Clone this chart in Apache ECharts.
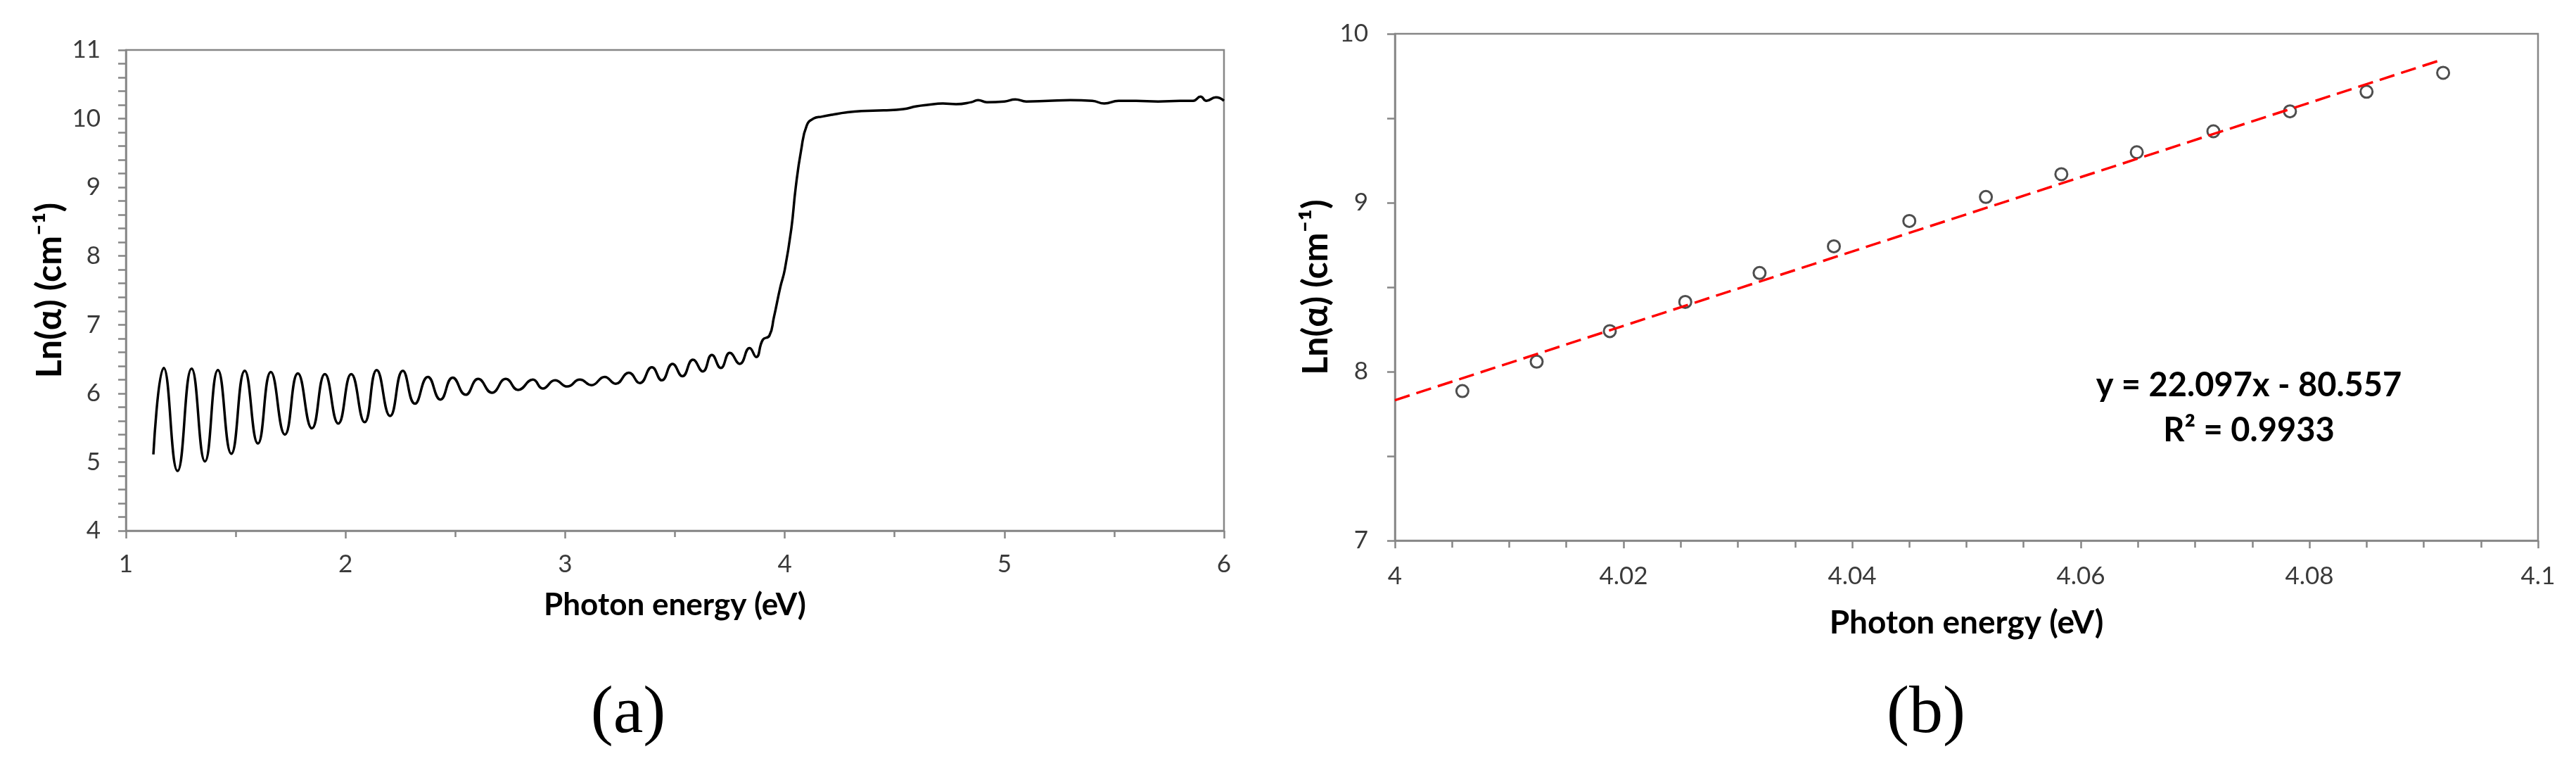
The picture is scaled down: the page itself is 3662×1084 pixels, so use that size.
<!DOCTYPE html>
<html>
<head>
<meta charset="utf-8">
<script src="https://cdn.jsdelivr.net/npm/echarts@6/dist/echarts.min.js"></script>
<style>
  html, body { margin: 0; padding: 0; background: #fff; }
  #chart { width: 3662px; height: 1084px; }
</style>
</head>
<body>
<div id="chart"></div>
<script>
// (a) ln(alpha) over the whole spectrum (peaks / troughs / knee)
var energyA = [
  1.125, 1.172, 1.235, 1.299, 1.360, 1.419, 1.480, 1.541, 1.601, 1.660,
  1.724, 1.783, 1.847, 1.906, 1.967, 2.026, 2.087, 2.142, 2.203, 2.261,
  2.316, 2.375, 2.432, 2.488, 2.547, 2.604, 2.667, 2.730, 2.786, 2.853,
  2.898, 2.954, 3.010, 3.067, 3.120, 3.180, 3.230, 3.290, 3.340, 3.395,
  3.440, 3.489, 3.534, 3.582, 3.627, 3.668, 3.709, 3.750, 3.795, 3.840,
  3.870, 3.900, 3.930, 3.950, 3.980, 4.000, 4.030, 4.050, 4.075, 4.100,
  4.130, 4.170, 4.220, 4.280, 4.350, 4.450, 4.540, 4.600, 4.650, 4.720,
  4.780, 4.850, 4.880, 4.920, 5.000, 5.050, 5.100, 5.200, 5.300, 5.400,
  5.455, 5.520, 5.600, 5.700, 5.800, 5.860, 5.893, 5.920, 5.963, 6.000
]
var lnAlphaA = [
  5.11, 6.37, 4.87, 6.36, 5.01, 6.34, 5.12, 6.33, 5.27, 6.31,
  5.40, 6.29, 5.49, 6.28, 5.56, 6.28, 5.58, 6.34, 5.67, 6.33,
  5.85, 6.24, 5.91, 6.23, 5.98, 6.21, 6.01, 6.21, 6.05, 6.20,
  6.07, 6.19, 6.10, 6.20, 6.12, 6.24, 6.14, 6.30, 6.15, 6.38,
  6.19, 6.43, 6.25, 6.49, 6.32, 6.56, 6.37, 6.59, 6.43, 6.66,
  6.53, 6.78, 6.84, 7.10, 7.55, 7.80, 8.40, 9.00, 9.55, 9.90,
  10.00, 10.03, 10.06, 10.09, 10.11, 10.12, 10.14, 10.18, 10.20, 10.22,
  10.21, 10.24, 10.27, 10.24, 10.25, 10.28, 10.25, 10.26, 10.27, 10.26,
  10.22, 10.26, 10.26, 10.25, 10.26, 10.26, 10.32, 10.26, 10.31, 10.26
]

// (b) points of the linear part near the edge
var energyB = [4.0059, 4.0124, 4.0188, 4.0254, 4.0319, 4.0384, 4.0450,
  4.0517, 4.0583, 4.0649, 4.0716, 4.0783, 4.0850, 4.0917]
var lnAlphaB = [7.885, 8.059, 8.240, 8.413, 8.584, 8.742, 8.892,
  9.034, 9.169, 9.299, 9.423, 9.541, 9.657, 9.769]

// linear fit drawn as a dashed red line
var fitX = [4, 4.0917]
var fitY = [7.831, 9.849]
var fitText = ['y = 22.097x - 80.557', 'R\u00b2 = 0.9933']

var xTitle = 'Photon energy (eV)'
var yTitle = 'Ln(\u03b1) (cm\u207b\u00b9)'
var panelTags = ['(a)', '(b)']

var sans = "Lato, 'Open Sans', sans-serif"
var serif = "'Liberation Serif', 'DejaVu Serif', serif"
var axisGrey = '#868686'

function zip(xs, ys) {
  return xs.map(function (x, i) { return [x, ys[i]] })
}

function valueAxis(opt) {
  return Object.assign({
    type: 'value',
    nameLocation: 'middle',
    nameTextStyle: { fontFamily: sans, fontWeight: 'bold', fontSize: 44, color: '#000' },
    axisLine: { show: true, onZero: false, lineStyle: { color: axisGrey, width: 2.5 } },
    axisTick: { show: true, inside: false, length: 11, lineStyle: { color: axisGrey, width: 2.5 } },
    minorTick: { show: true, length: 10, lineStyle: { color: axisGrey, width: 2.5 } },
    splitLine: { show: false },
    axisLabel: { fontFamily: sans, fontSize: 35, color: '#3a3a3a' }
  }, opt)
}

var yNameStyle = { fontFamily: sans, fontWeight: 'bold', fontSize: 50, color: '#000' }

var chart = echarts.init(document.getElementById('chart'))

var option = {
  animation: false,
  backgroundColor: '#fff',
  grid: [
    { left: 179, top: 71, width: 1561, height: 683, show: true, borderColor: axisGrey, borderWidth: 2.5 },
    { left: 1983, top: 48, width: 1625, height: 720, show: true, borderColor: axisGrey, borderWidth: 2.5 }
  ],
  xAxis: [
    valueAxis({
      gridIndex: 0, min: 1, max: 6, interval: 1, name: xTitle, nameGap: 84,
      minorTick: { show: true, splitNumber: 2, length: 9, lineStyle: { color: axisGrey, width: 2.5 } },
      axisLabel: { fontFamily: sans, fontSize: 35, color: '#3a3a3a', margin: 30 }
    }),
    valueAxis({
      gridIndex: 1, min: 4, max: 4.1, interval: 0.02, name: xTitle, nameGap: 94,
      nameTextStyle: { fontFamily: sans, fontWeight: 'bold', fontSize: 46, color: '#000' },
      minorTick: { show: true, splitNumber: 4, length: 10, lineStyle: { color: axisGrey, width: 2.5 } },
      axisLabel: {
        fontFamily: sans, fontSize: 35, color: '#3a3a3a', margin: 33,
        formatter: function (v) { return String(+v.toFixed(2)) }
      }
    })
  ],
  yAxis: [
    valueAxis({
      gridIndex: 0, min: 4, max: 11, interval: 1, name: yTitle, nameGap: 83,
      nameTextStyle: yNameStyle,
      minorTick: { show: true, splitNumber: 5, length: 11, lineStyle: { color: axisGrey, width: 2.5 } },
      axisLabel: { fontFamily: sans, fontSize: 35, color: '#3a3a3a', margin: 36 }
    }),
    valueAxis({
      gridIndex: 1, min: 7, max: 10, interval: 1, name: yTitle, nameGap: 87,
      nameTextStyle: yNameStyle,
      minorTick: { show: true, splitNumber: 2, length: 11, lineStyle: { color: axisGrey, width: 2.5 } },
      axisLabel: { fontFamily: sans, fontSize: 35, color: '#3a3a3a', margin: 38 }
    })
  ],
  series: [
    {
      type: 'line',
      xAxisIndex: 0,
      yAxisIndex: 0,
      data: zip(energyA, lnAlphaA),
      showSymbol: false,
      smooth: 0.5,
      lineStyle: { color: '#000', width: 3.5 },
      silent: true
    },
    {
      type: 'scatter',
      xAxisIndex: 1,
      yAxisIndex: 1,
      data: zip(energyB, lnAlphaB),
      symbol: 'circle',
      symbolSize: 17,
      itemStyle: { color: '#fff', borderColor: '#222', borderWidth: 3 },
      silent: true,
      z: 2
    },
    {
      type: 'line',
      xAxisIndex: 1,
      yAxisIndex: 1,
      data: zip(fitX, fitY),
      showSymbol: false,
      lineStyle: { color: '#ff0000', width: 3.5, type: [22, 10] },
      silent: true,
      z: 3
    }
  ],
  graphic: [
    {
      type: 'text', x: 893, y: 1015,
      style: { text: panelTags[0], font: '96px ' + serif, fill: '#000', textAlign: 'center', textVerticalAlign: 'middle' }
    },
    {
      type: 'text', x: 2738, y: 1015,
      style: { text: panelTags[1], font: '96px ' + serif, fill: '#000', textAlign: 'center', textVerticalAlign: 'middle' }
    },
    {
      type: 'text', x: 3197, y: 548,
      style: { text: fitText[0], font: 'bold 47px ' + sans, fill: '#000', textAlign: 'center', textVerticalAlign: 'middle' }
    },
    {
      type: 'text', x: 3197, y: 612,
      style: { text: fitText[1], font: 'bold 47px ' + sans, fill: '#000', textAlign: 'center', textVerticalAlign: 'middle' }
    }
  ]
}

chart.setOption(option)
</script>
</body>
</html>
